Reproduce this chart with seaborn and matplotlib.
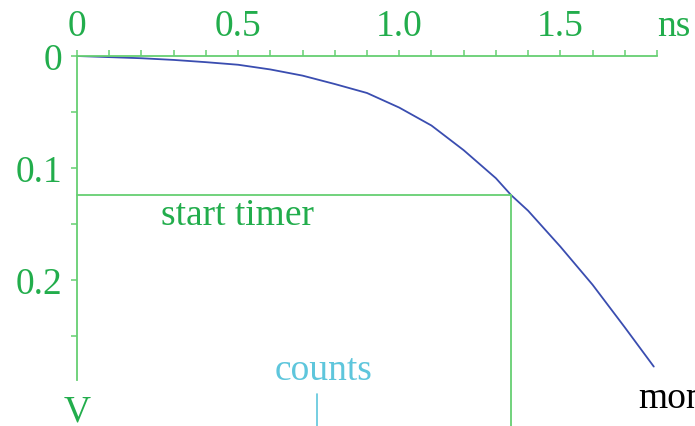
import numpy as np
import pandas as pd
import matplotlib
matplotlib.use("Agg")
import matplotlib.pyplot as plt
import seaborn as sns

# Pulse voltage versus time
time_ns = [0.0, 0.1, 0.2, 0.3, 0.4, 0.5, 0.6, 0.7, 0.8, 0.9, 1.0, 1.1,
           1.2, 1.3, 1.347, 1.4, 1.5, 1.6, 1.7, 1.79]
volts = [0.0, 0.001, 0.002, 0.0035, 0.0055, 0.0078, 0.012, 0.0175, 0.025,
         0.033, 0.046, 0.062, 0.084, 0.109, 0.124, 0.138, 0.170, 0.204,
         0.242, 0.277]

# Threshold crossing that starts the timer
threshold_v = 0.124
threshold_t = 1.347
counts_t = 0.746

x_ticks = [0.0, 0.5, 1.0, 1.5]
x_tick_labels = ["0", "0.5", "1.0", "1.5"]
y_ticks = [0.0, 0.1, 0.2]
y_tick_labels = ["0", "0.1", "0.2"]

sns.set_theme(style="white")
plt.rcParams["font.family"] = ["Liberation Serif", "DejaVu Serif"]

GREEN_TXT = "#22ad4c"
GREEN_LN = "#66cf72"
BLUE = "#3a4db0"
CYAN = "#5ec6dc"
FS = 27

fig = plt.figure(figsize=(6.95, 4.27), dpi=100)
ax = fig.add_axes([77 / 695, 0.0, 580 / 695, 1 - 57 / 427])

df = pd.DataFrame({"t": time_ns, "v": volts})
sns.lineplot(data=df, x="t", y="v", ax=ax, sort=False, estimator=None,
             color=BLUE, linewidth=1.3)

ax.set_xlim(0, 1.8)
ax.set_ylim(0.330, 0.0)

# Axis frame: top and left only, meeting at the origin
for side in ("right", "bottom"):
    ax.spines[side].set_visible(False)
ax.spines["top"].set_color(GREEN_LN)
ax.spines["left"].set_color(GREEN_LN)
ax.spines["top"].set_linewidth(1.3)
ax.spines["left"].set_linewidth(1.3)
ax.spines["top"].set_bounds(0, 1.8)
ax.spines["left"].set_bounds(0, 0.289)

ax.xaxis.tick_top()
ax.set_xticks(x_ticks)
ax.set_xticklabels(x_tick_labels)
ax.set_xticks(np.arange(0.1, 1.81, 0.1), minor=True)
ax.set_yticks(y_ticks)
ax.set_yticklabels(y_tick_labels)
ax.set_yticks([0.05, 0.15, 0.25], minor=True)

for axis in (ax.xaxis, ax.yaxis):
    axis.set_tick_params(which="both", direction="out", length=4.3,
                         width=1.1, color=GREEN_LN, labelcolor=GREEN_TXT,
                         labelsize=FS)
ax.tick_params(axis="x", which="both", top=True, bottom=False, pad=5)
ax.tick_params(axis="y", which="both", left=True, pad=6)
ax.set_xlabel("")
ax.set_ylabel("")

# Threshold lines
ax.plot([0, threshold_t], [threshold_v, threshold_v], color=GREEN_LN,
        linewidth=1.3, clip_on=False)
ax.plot([threshold_t, threshold_t], [threshold_v, 0.330], color=GREEN_LN,
        linewidth=1.3, clip_on=False)

# Counts marker
ax.plot([counts_t, counts_t], [0.3015, 0.330], color=CYAN, linewidth=1.2,
        clip_on=False)

ax.text(0.497, 0.150, "start timer", color=GREEN_TXT, fontsize=FS,
        ha="center", va="baseline")
ax.text(0.764, 0.288, "counts", color=CYAN, fontsize=FS,
        ha="center", va="baseline")
ax.text(0.0, 0.325, "V", color=GREEN_TXT, fontsize=FS,
        ha="center", va="baseline", clip_on=False)
ax.text(1.851, -0.0187, "ns", color=GREEN_TXT, fontsize=FS,
        ha="center", va="baseline", clip_on=False)
ax.text(1.742, 0.313, "mon", color="black", fontsize=FS,
        ha="left", va="baseline", clip_on=False)

fig.savefig("out.png", dpi=100)
